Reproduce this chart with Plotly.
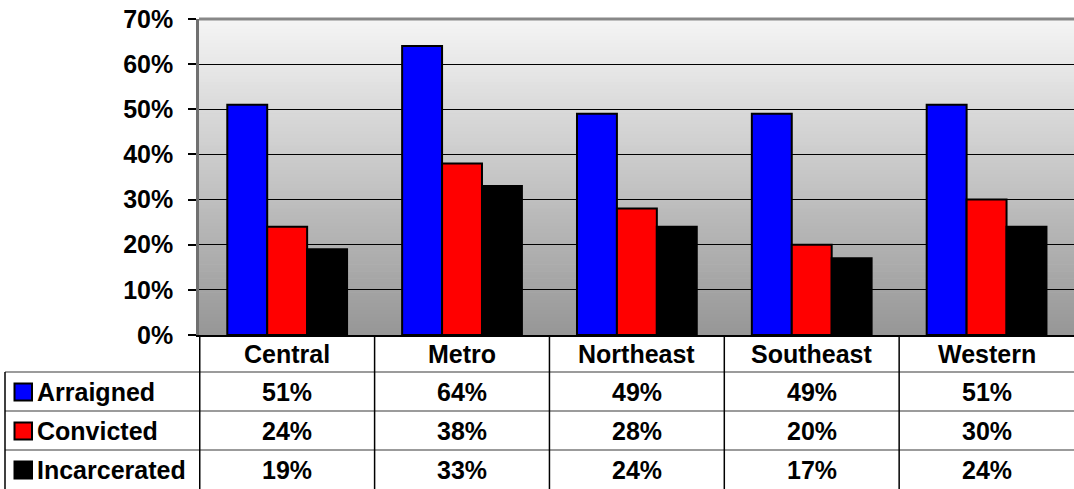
import plotly.graph_objects as go

# ---- data ----
regions = ["Central", "Metro", "Northeast", "Southeast", "Western"]
arraigned = [0.51, 0.64, 0.49, 0.49, 0.51]
convicted = [0.24, 0.38, 0.28, 0.20, 0.30]
incarcerated = [0.19, 0.33, 0.24, 0.17, 0.24]
series_names = ["Arraigned", "Convicted", "Incarcerated"]
series_colors = ["#0000ff", "#ff0000", "#000000"]
series_values = [arraigned, convicted, incarcerated]
y_ticks = [0, 0.1, 0.2, 0.3, 0.4, 0.5, 0.6, 0.7]

# ---- layout geometry (pixels) ----
W, H = 1074, 489
ML, MR, MT, MB = 199, 0, 19, 154
PW, PH = W - ML - MR, H - MT - MB
FONT = "Liberation Sans, Arial, sans-serif"
FS = 25


def px_y(p):
    """pixel row -> paper y"""
    return (H - MB - p) / PH


def px_x(p):
    """pixel column -> paper x"""
    return (p - ML) / PW


fig = go.Figure()
for name, vals, col in zip(series_names, series_values, series_colors):
    fig.add_trace(go.Bar(
        x=regions, y=vals, name=name,
        marker=dict(color=col, line=dict(color="#000000", width=2)),
        showlegend=False,
    ))

shapes = []
# gradient background of plot area
N = 90
top_c, bot_c = 245, 150
for i in range(N):
    t = (i + 0.5) / N
    c = int(round(bot_c + (top_c - bot_c) * t))
    shapes.append(dict(type="rect", xref="paper", yref="paper",
                       x0=0, x1=1, y0=i / N, y1=(i + 1) / N + 0.002,
                       fillcolor=f"rgb({c},{c},{c})", line=dict(width=0),
                       layer="below"))
# top border
shapes.append(dict(type="line", xref="paper", yref="paper", x0=0, x1=1, y0=1, y1=1,
                   line=dict(color="#888888", width=3)))

# table rows (pixel rows of horizontal lines)
row_lines = [372, 411, 450]
row_centers = [392, 431, 470]
header_center = 354
for p in row_lines:
    shapes.append(dict(type="line", xref="paper", yref="paper",
                       x0=px_x(5), x1=1, y0=px_y(p), y1=px_y(p),
                       line=dict(color="#7a7a7a", width=1.5)))
# left border of the legend column
shapes.append(dict(type="line", xref="paper", yref="paper",
                   x0=px_x(5), x1=px_x(5), y0=px_y(372), y1=px_y(H + 2),
                   line=dict(color="#000000", width=1.5)))
# column dividers
for k in range(len(regions)):
    xb = k - 0.5
    shapes.append(dict(type="line", xref="x", yref="paper",
                       x0=xb, x1=xb, y0=0, y1=px_y(H + 2),
                       line=dict(color="#000000", width=1.5)))

annotations = []
for k, reg in enumerate(regions):
    annotations.append(dict(x=reg, xref="x", y=px_y(header_center), yref="paper",
                            text=f"<b>{reg}</b>", showarrow=False,
                            font=dict(family=FONT, size=FS, color="#000000"),
                            xanchor="center", yanchor="middle"))
for r, (name, vals, col) in enumerate(zip(series_names, series_values, series_colors)):
    yc = row_centers[r]
    # legend key
    shapes.append(dict(type="rect", xref="paper", yref="paper",
                       x0=px_x(14.5), x1=px_x(32), y0=px_y(yc + 8.5), y1=px_y(yc - 8.5),
                       fillcolor=col, line=dict(color="#000000", width=2)))
    annotations.append(dict(x=px_x(35), xref="paper", y=px_y(yc), yref="paper",
                            text=f"<b>{name}</b>", showarrow=False,
                            font=dict(family=FONT, size=FS, color="#000000"),
                            xanchor="left", yanchor="middle"))
    for reg, v in zip(regions, vals):
        annotations.append(dict(x=reg, xref="x", y=px_y(yc), yref="paper",
                                text=f"<b>{v:.0%}</b>", showarrow=False,
                                font=dict(family=FONT, size=FS, color="#000000"),
                                xanchor="center", yanchor="middle"))

fig.update_layout(
    width=W, height=H,
    margin=dict(l=ML, r=MR, t=MT, b=MB, autoexpand=False),
    paper_bgcolor="#ffffff", plot_bgcolor="#c8c8c8",
    barmode="group", bargap=0.315, bargroupgap=0,
    shapes=shapes, annotations=annotations,
    xaxis=dict(showticklabels=False, ticks="", showgrid=False, showline=True,
               linecolor="#000000", linewidth=1.5, zeroline=False, automargin=False),
    yaxis=dict(range=[0, 0.70], tickvals=y_ticks, tickformat=".0%",
               showgrid=True, gridcolor="#000000", gridwidth=1,
               showline=True, linecolor="#707070", linewidth=2.5,
               ticks="outside", ticklen=8, tickcolor="#000000", tickwidth=1.5,
               ticklabelstandoff=10, zeroline=False, automargin=False,
               tickfont=dict(family=FONT, size=FS, color="#000000", weight="bold")),
)

fig.write_html("out.html", config={"displayModeBar": False},
               post_script="document.body.style.margin='0';document.body.style.overflow='hidden';")
